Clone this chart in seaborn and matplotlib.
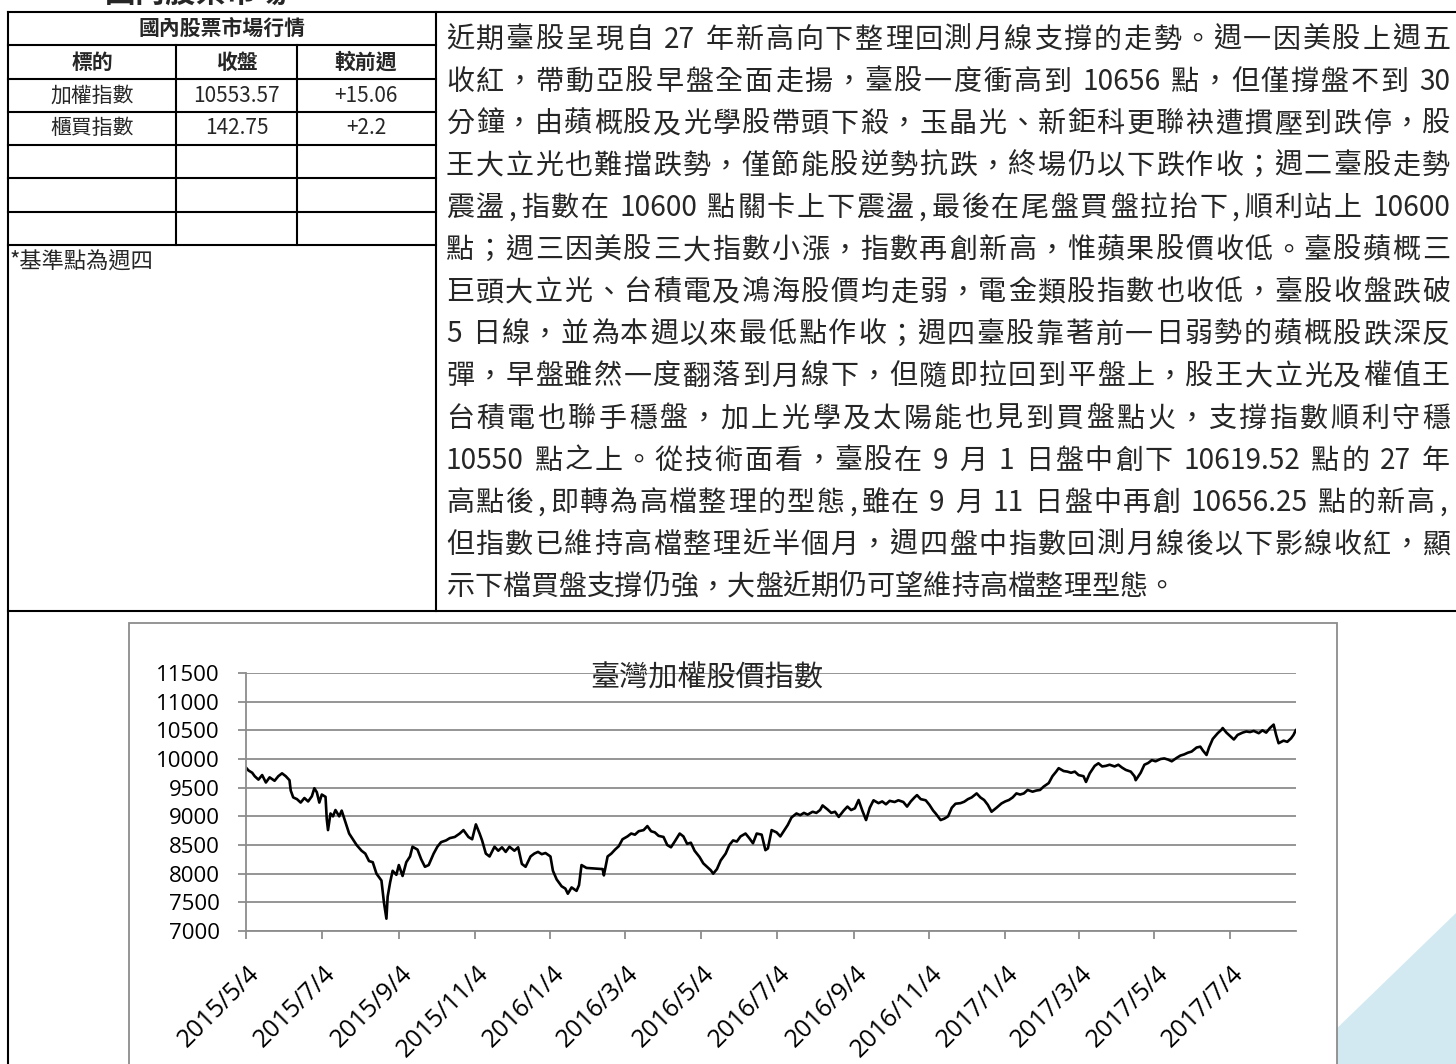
import re
import matplotlib
matplotlib.use('Agg')
import matplotlib.pyplot as plt
import matplotlib.transforms as mtransforms
from matplotlib.patches import Rectangle, Polygon
import pandas as pd
import seaborn as sns

W, H = 1456, 1064

# TAIEX daily close
dates = [
    '2015-05-04', '2015-05-06', '2015-05-09', '2015-05-11', '2015-05-14', '2015-05-17', '2015-05-20', '2015-05-23', '2015-05-27', '2015-05-30',
    '2015-06-02', '2015-06-05', '2015-06-08', '2015-06-09', '2015-06-11', '2015-06-14', '2015-06-17', '2015-06-20', '2015-06-23', '2015-06-26', '2015-06-28', '2015-06-30',
    '2015-07-02', '2015-07-04', '2015-07-07', '2015-07-08', '2015-07-09', '2015-07-11', '2015-07-13', '2015-07-15', '2015-07-18', '2015-07-20', '2015-07-23', '2015-07-26', '2015-07-29',
    '2015-08-01', '2015-08-05', '2015-08-08', '2015-08-11', '2015-08-14', '2015-08-17', '2015-08-21', '2015-08-23', '2015-08-25', '2015-08-26', '2015-08-28', '2015-08-30',
    '2015-09-02', '2015-09-04', '2015-09-07', '2015-09-10', '2015-09-13', '2015-09-15', '2015-09-19', '2015-09-22', '2015-09-25', '2015-09-28',
    '2015-10-02', '2015-10-05', '2015-10-08', '2015-10-12', '2015-10-15', '2015-10-19', '2015-10-23', '2015-10-26', '2015-10-30',
    '2015-11-02', '2015-11-05', '2015-11-08', '2015-11-10', '2015-11-13', '2015-11-16', '2015-11-20', '2015-11-23', '2015-11-26', '2015-11-29',
    '2015-12-02', '2015-12-06', '2015-12-09', '2015-12-12', '2015-12-15', '2015-12-19', '2015-12-22', '2015-12-25', '2015-12-28', '2015-12-31',
    '2016-01-04', '2016-01-06', '2016-01-09', '2016-01-13', '2016-01-16', '2016-01-18', '2016-01-21', '2016-01-25', '2016-01-27', '2016-01-29',
    '2016-02-02', '2016-02-15', '2016-02-16', '2016-02-19', '2016-02-22', '2016-02-25', '2016-02-28',
    '2016-03-02', '2016-03-06', '2016-03-09', '2016-03-12', '2016-03-15', '2016-03-19', '2016-03-22', '2016-03-25', '2016-03-28', '2016-03-31',
    '2016-04-04', '2016-04-07', '2016-04-10', '2016-04-13', '2016-04-17', '2016-04-20', '2016-04-23', '2016-04-26', '2016-04-29',
    '2016-05-03', '2016-05-06', '2016-05-09', '2016-05-12', '2016-05-14', '2016-05-17', '2016-05-20', '2016-05-24', '2016-05-27', '2016-05-30',
    '2016-06-02', '2016-06-05', '2016-06-09', '2016-06-12', '2016-06-15', '2016-06-18', '2016-06-22', '2016-06-25', '2016-06-27', '2016-06-30',
    '2016-07-04', '2016-07-07', '2016-07-10', '2016-07-13', '2016-07-16', '2016-07-20', '2016-07-23', '2016-07-26', '2016-07-29',
    '2016-08-02', '2016-08-05', '2016-08-08', '2016-08-10', '2016-08-14', '2016-08-17', '2016-08-20', '2016-08-23', '2016-08-27', '2016-08-30',
    '2016-09-02', '2016-09-05', '2016-09-08', '2016-09-11', '2016-09-14', '2016-09-17', '2016-09-20', '2016-09-24', '2016-09-27', '2016-09-30',
    '2016-10-03', '2016-10-07', '2016-10-10', '2016-10-14', '2016-10-17', '2016-10-20', '2016-10-23', '2016-10-25', '2016-10-28',
    '2016-11-01', '2016-11-04', '2016-11-07', '2016-11-09', '2016-11-13', '2016-11-16', '2016-11-19', '2016-11-22', '2016-11-25', '2016-11-29',
    '2016-12-02', '2016-12-05', '2016-12-08', '2016-12-12', '2016-12-15', '2016-12-18', '2016-12-21', '2016-12-24', '2016-12-28',
    '2017-01-01', '2017-01-04', '2017-01-07', '2017-01-10', '2017-01-13', '2017-01-16', '2017-01-19', '2017-01-22', '2017-01-26', '2017-01-29',
    '2017-02-01', '2017-02-04', '2017-02-08', '2017-02-11', '2017-02-14', '2017-02-16', '2017-02-20', '2017-02-23', '2017-02-26',
    '2017-03-01', '2017-03-04', '2017-03-08', '2017-03-10', '2017-03-13', '2017-03-17', '2017-03-20', '2017-03-23', '2017-03-26', '2017-03-29',
    '2017-04-02', '2017-04-05', '2017-04-08', '2017-04-11', '2017-04-15', '2017-04-18', '2017-04-19', '2017-04-23', '2017-04-26', '2017-04-29',
    '2017-05-02', '2017-05-05', '2017-05-09', '2017-05-12', '2017-05-15', '2017-05-18', '2017-05-22', '2017-05-25', '2017-05-28', '2017-05-31',
    '2017-06-03', '2017-06-07', '2017-06-10', '2017-06-12', '2017-06-15', '2017-06-17', '2017-06-20', '2017-06-24', '2017-06-27', '2017-06-28',
    '2017-07-01', '2017-07-04', '2017-07-07', '2017-07-10', '2017-07-14', '2017-07-17', '2017-07-20', '2017-07-23', '2017-07-27', '2017-07-30',
    '2017-08-02', '2017-08-05', '2017-08-08', '2017-08-10', '2017-08-12', '2017-08-16', '2017-08-19', '2017-08-22', '2017-08-24', '2017-08-26',
]
close = [
    9850, 9800, 9760, 9700, 9640, 9720, 9590, 9680, 9620, 9700,
    9750, 9700, 9630, 9450, 9330, 9300, 9240, 9320, 9260, 9350, 9490, 9420,
    9240, 9380, 9340, 8950, 8760, 9050, 9000, 9110, 9000, 9100, 8900, 8700, 8600,
    8500, 8400, 8350, 8220, 8200, 8000, 7880, 7500, 7215, 7600, 7850, 8050,
    7980, 8150, 7960, 8200, 8300, 8470, 8420, 8250, 8120, 8150,
    8350, 8470, 8550, 8580, 8620, 8640, 8700, 8760, 8640,
    8600, 8860, 8700, 8580, 8350, 8300, 8470, 8400, 8460, 8380,
    8470, 8400, 8460, 8170, 8120, 8300, 8350, 8380, 8340, 8360,
    8300, 8050, 7900, 7780, 7740, 7650, 7760, 7700, 7800, 8150,
    8100, 8080, 7970, 8300, 8350, 8420, 8480,
    8600, 8650, 8700, 8680, 8740, 8760, 8830, 8740, 8720, 8660,
    8640, 8500, 8460, 8560, 8700, 8650, 8520, 8540, 8400,
    8290, 8180, 8120, 8060, 8000, 8080, 8230, 8350, 8500, 8580,
    8560, 8650, 8700, 8620, 8530, 8700, 8680, 8410, 8440, 8760,
    8720, 8650, 8750, 8850, 8980, 9050, 9020, 9060, 9030,
    9080, 9060, 9110, 9190, 9120, 9060, 9080, 8990, 9100, 9170,
    9110, 9140, 9285, 9100, 8935, 9150, 9280, 9230, 9260, 9210,
    9270, 9250, 9280, 9250, 9170, 9260, 9330, 9370, 9300,
    9280, 9200, 9100, 9050, 8935, 8960, 9000, 9150, 9220, 9230,
    9255, 9300, 9330, 9400, 9330, 9285, 9200, 9080, 9150,
    9225, 9260, 9285, 9330, 9400, 9380, 9400, 9460, 9430, 9450,
    9460, 9520, 9580, 9700, 9780, 9840, 9790, 9780, 9760,
    9780, 9720, 9700, 9600, 9750, 9880, 9925, 9870, 9880, 9900,
    9870, 9900, 9850, 9810, 9780, 9700, 9630, 9760, 9900, 9930,
    9980, 9960, 10000, 10010, 9990, 9960, 10020, 10060, 10080, 10110,
    10130, 10200, 10215, 10150, 10070, 10200, 10350, 10450, 10510, 10540,
    10460, 10400, 10340, 10420, 10460, 10480, 10470, 10490, 10450, 10500,
    10460, 10540, 10600, 10420, 10275, 10320, 10300, 10360, 10420, 10510,
]

tick_dates = ['2015-05-04', '2015-07-04', '2015-09-04', '2015-11-04', '2016-01-04', '2016-03-04', '2016-05-04',
              '2016-07-04', '2016-09-04', '2016-11-04', '2017-01-04', '2017-03-04', '2017-05-04', '2017-07-04']
tick_labels = ['2015/5/4', '2015/7/4', '2015/9/4', '2015/11/4', '2016/1/4', '2016/3/4', '2016/5/4',
               '2016/7/4', '2016/9/4', '2016/11/4', '2017/1/4', '2017/3/4', '2017/5/4', '2017/7/4']
y_ticks = list(range(7000, 11501, 500))

heading = '國內股票市場'
table_title = '國內股票市場行情'
table_header = ['標的', '收盤', '較前週']
table_rows = [['加權指數', '10553.57', '+15.06'],
              ['櫃買指數', '142.75', '+2.2']]
table_note = '*基準點為週四'
chart_title = '臺灣加權股價指數'

paragraph = [
    '近期臺股呈現自 27 年新高向下整理回測月線支撐的走勢。週一因美股上週五',
    '收紅，帶動亞股早盤全面走揚，臺股一度衝高到 10656 點，但僅撐盤不到 30',
    '分鐘，由蘋概股及光學股帶頭下殺，玉晶光、新鉅科更聯袂遭摜壓到跌停，股',
    '王大立光也難擋跌勢，僅節能股逆勢抗跌，終場仍以下跌作收；週二臺股走勢',
    '震盪,指數在 10600 點關卡上下震盪,最後在尾盤買盤拉抬下,順利站上 10600',
    '點；週三因美股三大指數小漲，指數再創新高，惟蘋果股價收低。臺股蘋概三',
    '巨頭大立光、台積電及鴻海股價均走弱，電金類股指數也收低，臺股收盤跌破',
    '5 日線，並為本週以來最低點作收；週四臺股靠著前一日弱勢的蘋概股跌深反',
    '彈，早盤雖然一度翻落到月線下，但隨即拉回到平盤上，股王大立光及權值王',
    '台積電也聯手穩盤，加上光學及太陽能也見到買盤點火，支撐指數順利守穩',
    '10550 點之上。從技術面看，臺股在 9 月 1 日盤中創下 10619.52 點的 27 年',
    '高點後,即轉為高檔整理的型態,雖在 9 月 11 日盤中再創 10656.25 點的新高,',
    '但指數已維持高檔整理近半個月，週四盤中指數回測月線後以下影線收紅，顯',
    '示下檔買盤支撐仍強，大盤近期仍可望維持高檔整理型態。',
]

sns.set_theme(style='white')
plt.rcParams['font.family'] = ['Noto Sans CJK TC', 'DejaVu Sans']

fig = plt.figure(figsize=(W / 100, H / 100), dpi=100)
fig.patch.set_facecolor('white')

# page layer in pixel coordinates (y grows downward)
page = fig.add_axes([0, 0, 1, 1])
page.set_xlim(0, W)
page.set_ylim(H, 0)
page.axis('off')


def seg(x0, y0, x1, y1, lw=1.5):
    page.plot([x0, x1], [y0, y1], color='black', lw=lw, solid_capstyle='projecting')


# frame
seg(8, 12, W, 12)
seg(8, 12, 8, H)
seg(436, 12, 436, 611)
seg(8, 611, W, 611)
for yy in [45, 79, 112, 145, 178, 212, 245]:
    seg(8, yy, 436, yy)
for xx in [176, 297]:
    seg(xx, 45, xx, 245)

# heading above the frame, mostly off the page in the source too
page.text(196, 2, heading, fontsize=22, weight='bold', ha='center', va='baseline')

# table
col_x = [92, 236.5, 366]
tfs = 15
page.text(222, 28.5, table_title, fontsize=tfs, weight='bold', ha='center', va='center')
for cx, lab in zip(col_x, table_header):
    page.text(cx, 62, lab, fontsize=tfs, weight='bold', ha='center', va='center')
for ry, row in zip([95.5, 128.5], table_rows):
    for cx, lab in zip(col_x, row):
        page.text(cx, ry, lab, fontsize=tfs, ha='center', va='center')
page.text(10, 262, table_note, fontsize=16, ha='left', va='center')

# justified paragraph
renderer = fig.canvas.get_renderer()
pfs = 20.2
em = pfs * 100 / 72
x_left, x_right = 446, 1450
line_y0, line_step = 37, 42.1
for i, line in enumerate(paragraph):
    toks = re.findall(r'[0-9.]+|\s+|.', line)
    widths = []
    for tok in toks:
        if tok.isspace():
            widths.append(7.0)
        elif tok == ',':
            widths.append(0.5 * em)
        elif ord(tok[0]) > 0x2E80:
            widths.append(em)
        else:
            t = page.text(0, 0, tok, fontsize=pfs)
            widths.append(t.get_window_extent(renderer).width)
            t.remove()
    gap = 0.0
    if i < len(paragraph) - 1:
        gap = (x_right - x_left - sum(widths)) / (len(toks) - 1)
    x = x_left
    yb = line_y0 + i * line_step + 0.38 * em
    for tok, w in zip(toks, widths):
        if tok.isspace():
            pass
        elif tok == ',' or ord(tok[0]) > 0x2E80:
            page.text(x + w / 2, yb, tok, fontsize=pfs, ha='center', va='baseline')
        else:
            page.text(x, yb, tok, fontsize=pfs, ha='left', va='baseline')
        x += w + gap

# decoration and chart frame
page.add_patch(Polygon([(1300, H), (W, 913), (W, H)], closed=True, fc='#d3e9f1', ec='none', zorder=1))
page.add_patch(Rectangle((129, 623), 1337 - 129, H - 623 + 20, fc='white', ec='#8c8c8c', lw=1.3, zorder=2))

# chart
grey = '#8c8c8c'
ax = fig.add_axes([246 / W, 1 - 931 / H, (1296 - 246) / W, (931 - 673) / H])
ax.patch.set_alpha(0)
df = pd.DataFrame({'date': pd.to_datetime(dates), 'close': close})
sns.lineplot(data=df, x='date', y='close', ax=ax, color='black', lw=1.9, estimator=None, sort=False)

ax.set_ylim(7000, 11500)
ax.set_yticks(y_ticks)
ax.set_xlim(df['date'].iloc[0], df['date'].iloc[-1])
ax.set_xticks(pd.to_datetime(tick_dates))
ax.set_xticklabels(tick_labels, rotation=45, ha='right', va='center', rotation_mode='anchor')
ax.set_xlabel('')
ax.set_ylabel('')
ax.grid(axis='y', color=grey, lw=1.3)
ax.grid(axis='x', visible=False)
ax.set_axisbelow(True)
for side in ['top', 'right']:
    ax.spines[side].set_visible(False)
for side in ['left', 'bottom']:
    ax.spines[side].set_color(grey)
    ax.spines[side].set_linewidth(1.3)
ax.tick_params(axis='both', direction='out', bottom=True, left=True, length=6, width=1.3,
               color=grey, labelcolor='black')
ax.tick_params(axis='x', pad=22, labelsize=18)
ax.tick_params(axis='y', pad=13, labelsize=16)
shift = mtransforms.ScaledTranslation(10 / 100, 0, fig.dpi_scale_trans)
for lab in ax.get_xticklabels():
    lab.set_fontfamily('Open Sans')
    lab.set_transform(lab.get_transform() + shift)
for lab in ax.get_yticklabels():
    lab.set_fontfamily('Open Sans')

fig.text(707 / W, 1 - 679 / H, chart_title, fontsize=21, ha='center', va='center')

fig.savefig('out.png', dpi=100)
